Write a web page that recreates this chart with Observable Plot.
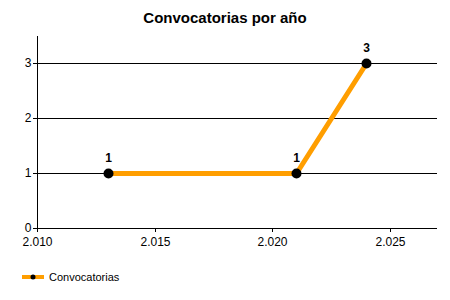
<!DOCTYPE html>
<html>
<head>
<meta charset="utf-8">
<script src="https://cdn.jsdelivr.net/npm/d3@7"></script>
<script src="https://cdn.jsdelivr.net/npm/@observablehq/plot@0.6"></script>
<style>
  body { margin: 0; background: #fff; font-family: "Liberation Sans", Arial, sans-serif; }
  #title { height: 30px; line-height: 36px; text-align: center; font-weight: bold; font-size: 15px; color: #000; }
  #legend { position: relative; height: 45px; font-size: 11px; color: #000; }
  #legend svg { position: absolute; left: 22px; top: 18px; }
  #legend span { position: absolute; left: 49px; top: 16px; }
</style>
</head>
<body>
<div id="title">Convocatorias por año</div>
<div id="chart"></div>
<div id="legend"></div>
<script>
const years = [2013, 2021, 2024];
const counts = [1, 1, 3];
const seriesName = "Convocatorias";
const xTicks = [2010, 2015, 2020, 2025];
const yTicks = [0, 1, 2, 3];
const gridValues = [1, 2, 3];

const data = years.map((y, i) => ({year: y, value: counts[i]}));
const esFormat = d3.formatLocale({decimal: ",", thousands: ".", grouping: [3], currency: ["", "€"]}).format(",");
const lineColor = "#FF9E00";

const chart = Plot.plot({
  width: 450,
  height: 225,
  marginLeft: 37,
  marginRight: 13,
  marginTop: 6,
  marginBottom: 27,
  style: {fontFamily: "'Liberation Sans', Arial, sans-serif", fontSize: "12px", color: "#000", background: "#fff"},
  x: {domain: [2010, 2027], round: true},
  y: {domain: [0, 3.5], round: true},
  marks: [
    Plot.gridY(gridValues, {stroke: "#000", strokeOpacity: 1}),
    Plot.axisX(xTicks, {tickFormat: esFormat, tickSize: 4, tickPadding: 5, stroke: "#000", label: null}),
    Plot.axisY(yTicks, {tickFormat: d => String(d), tickSize: 4, tickPadding: 2, stroke: "#000", label: null}),
    Plot.ruleY([0], {stroke: "#000"}),
    Plot.ruleX([2010], {stroke: "#000"}),
    Plot.line(data, {x: "year", y: "value", stroke: lineColor, strokeWidth: 5}),
    Plot.dot(data, {x: "year", y: "value", r: 5, fill: "#000", stroke: "none"}),
    Plot.text(data, {x: "year", y: "value", text: d => String(d.value), dy: -15, fontWeight: "bold", fontSize: 12, fill: "#000"})
  ]
});
document.getElementById("chart").appendChild(chart);

const leg = document.getElementById("legend");
leg.innerHTML = `<svg width="22" height="8"><line x1="0" x2="22" y1="4" y2="4" stroke="${lineColor}" stroke-width="4"/><circle cx="11" cy="4" r="2.5" fill="#000"/></svg><span>${seriesName}</span>`;
</script>
</body>
</html>
